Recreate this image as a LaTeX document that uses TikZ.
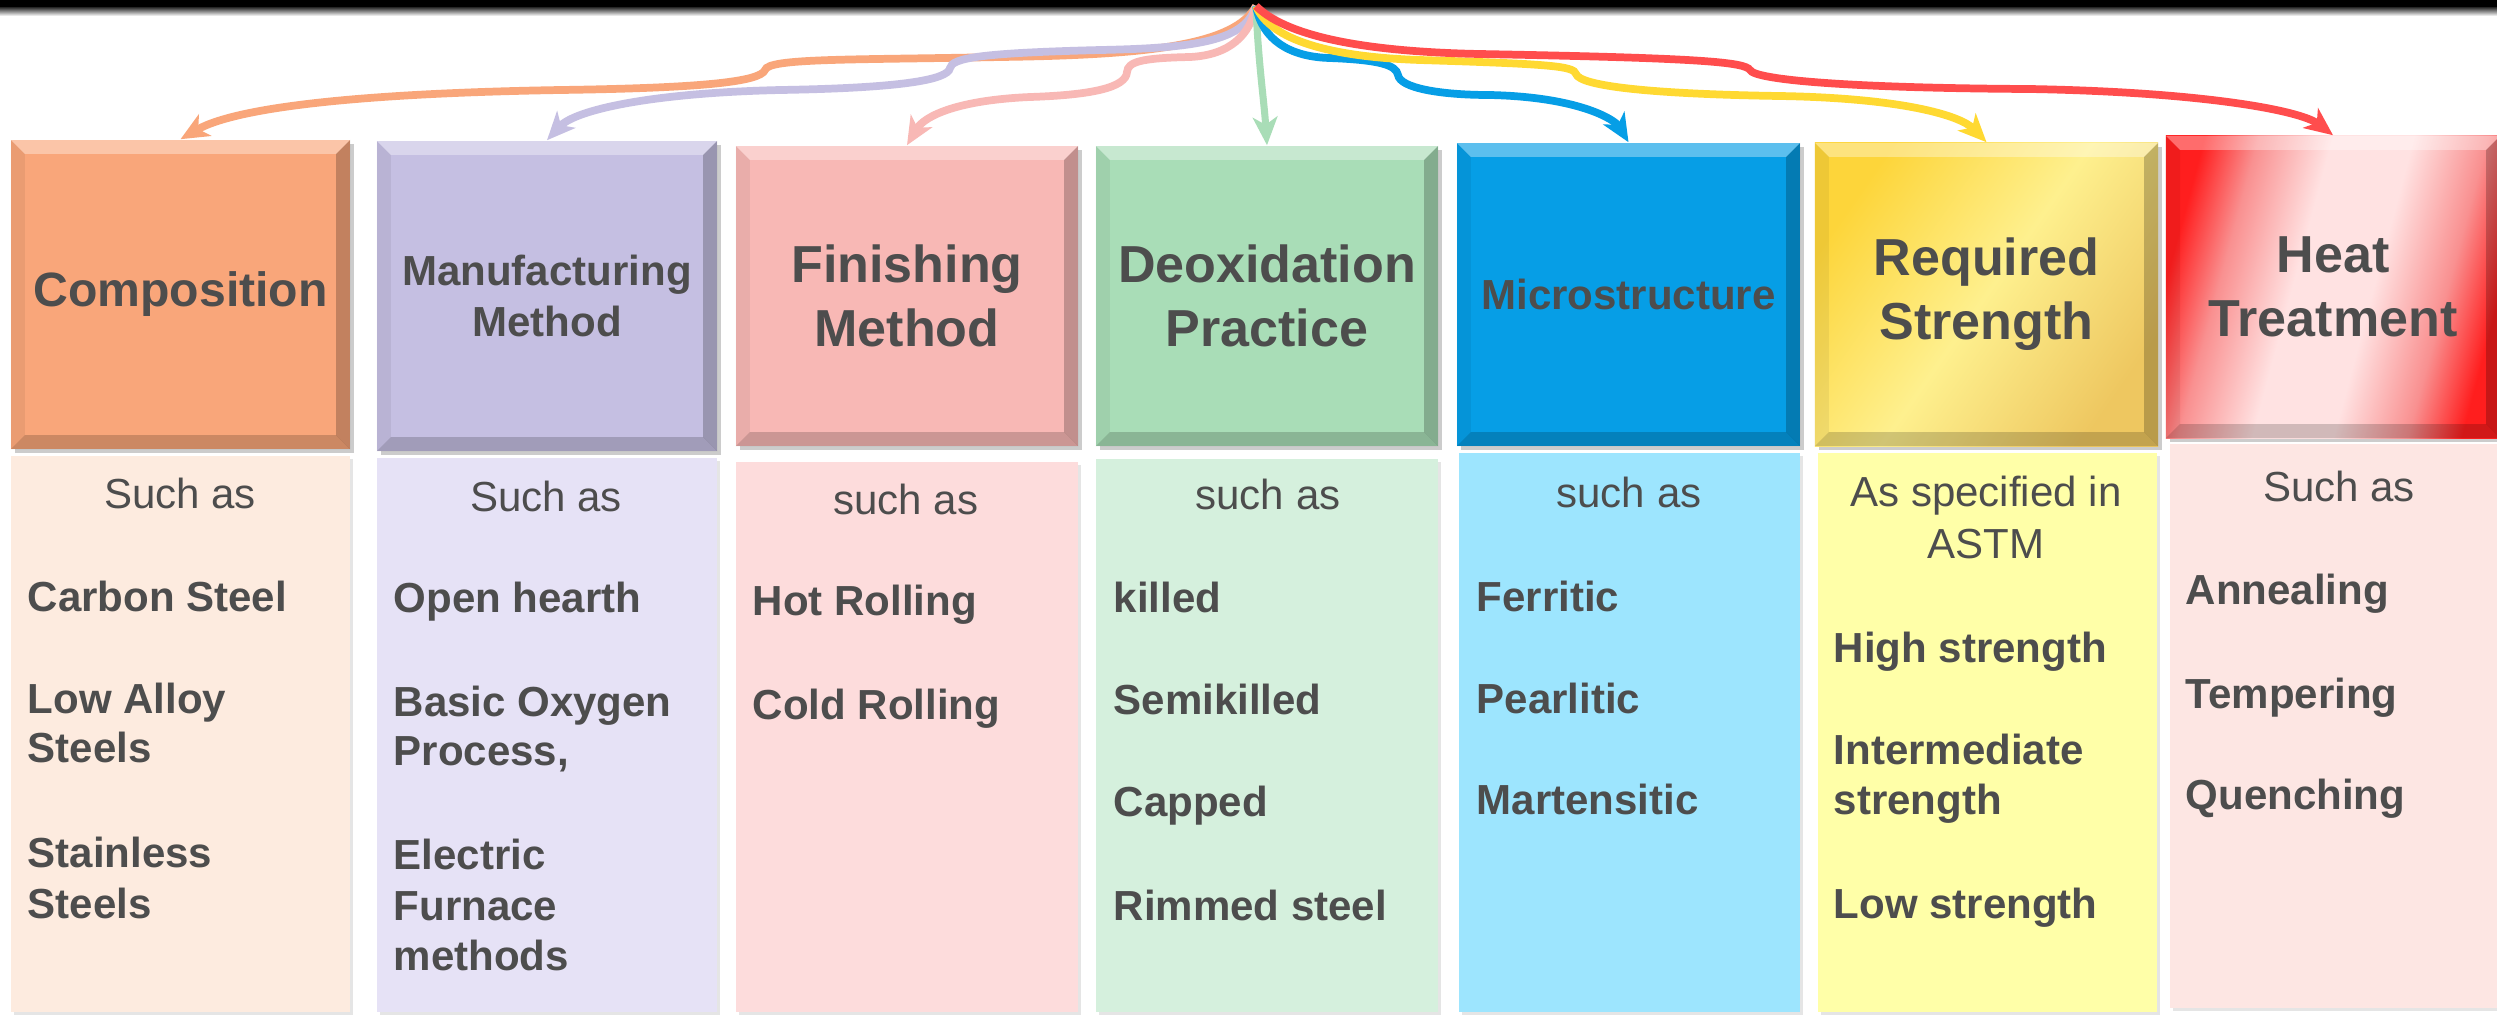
\documentclass[tikz,border=0pt]{standalone}
\usepackage{fontspec}
\setmainfont{Liberation Sans}
\usetikzlibrary{arrows.meta,shadows,calc}

\definecolor{txt}{HTML}{4D4D4D}
\definecolor{cO}{HTML}{F9A67A}\definecolor{cOl}{HTML}{FDEBDF}
\definecolor{cL}{HTML}{C5BFE2}\definecolor{cLl}{HTML}{E6E2F6}
\definecolor{cP}{HTML}{F8B8B5}\definecolor{cPl}{HTML}{FDDCDC}
\definecolor{cG}{HTML}{A9DDB7}\definecolor{cGl}{HTML}{D5F0DD}
\definecolor{cB}{HTML}{069EE6}\definecolor{cBl}{HTML}{9DE5FE}
\definecolor{cYa}{HTML}{FDD53A}\definecolor{cYb}{HTML}{FEF08E}\definecolor{cYc}{HTML}{EEC760}
\definecolor{cYl}{HTML}{FFFFA8}
\definecolor{cRa}{HTML}{FF1E1E}\definecolor{cRp}{HTML}{F99090}\definecolor{cRb}{HTML}{FFE2E2}
\definecolor{cRl}{HTML}{FDE6E3}
\definecolor{aY}{HTML}{FFD932}
\definecolor{aR}{HTML}{FF4D4D}

\pgfdeclarehorizontalshading{heatshade}{100bp}{color(0bp)=(cRa); color(25bp)=(cRa);
  color(33bp)=(cRp); color(44bp)=(cRb); color(56bp)=(cRb); color(67bp)=(cRp);
  color(75bp)=(cRa); color(100bp)=(cRa)}

\begin{document}
\begin{tikzpicture}[x=0.01cm,y=-0.01cm,
  bevel/.style={path picture={
    \coordinate (bNW) at (path picture bounding box.north west);
    \coordinate (bNE) at (path picture bounding box.north east);
    \coordinate (bSW) at (path picture bounding box.south west);
    \coordinate (bSE) at (path picture bounding box.south east);
    \fill[white,opacity=0.35] (bNW) -- (bNE) -- ($(bNE)+(-4pt,-4pt)$) -- ($(bNW)+(4pt,-4pt)$) -- cycle;
    \fill[black,opacity=0.18] (bSW) -- (bSE) -- ($(bSE)+(-4pt,4pt)$) -- ($(bSW)+(4pt,4pt)$) -- cycle;
    \fill[black,opacity=0.06] (bNW) -- ($(bNW)+(4pt,-4pt)$) -- ($(bSW)+(4pt,4pt)$) -- (bSW) -- cycle;
    \fill[black,opacity=0.22] (bNE) -- ($(bNE)+(-4pt,-4pt)$) -- ($(bSE)+(-4pt,4pt)$) -- (bSE) -- cycle;
  }},
  hdr/.style={rectangle, inner sep=0pt, align=center, text=txt, bevel,
    drop shadow={opacity=0.4, shadow xshift=1.2pt, shadow yshift=-1.2pt}},
  lowbox/.style={rectangle, inner sep=0pt,
    drop shadow={opacity=0.2, shadow xshift=0.8pt, shadow yshift=-0.8pt}},
  hbig/.style={font=\bfseries\fontsize{14.8}{18.2}\selectfont},
  hmid/.style={font=\bfseries\fontsize{13.7}{16.5}\selectfont},
  hsml/.style={font=\bfseries\fontsize{11.95}{14.5}\selectfont},
  lt/.style={font=\fontsize{11.95}{14.2}\selectfont, text=txt, inner sep=0pt, anchor=base},
  li/.style={font=\bfseries\fontsize{11.95}{14.2}\selectfont, text=txt, inner sep=0pt, anchor=base west},
  conn/.style={line width=2.2pt, -{Stealth[length=8pt,width=7pt,inset=2.2pt]}}
]
\useasboundingbox (0,0) rectangle (2497,1017);
\fill[white] (0,0) rectangle (2497,1017);

% top bar
\fill[black] (0,0) rectangle (2497,7);
\shade[top color=black!85, bottom color=white] (0,7) rectangle (2497,16);

% lower boxes
\node[lowbox, fill=cOl, minimum width=3.39cm, minimum height=5.56cm] (l1) at (180.5,734) {};
\node[lowbox, fill=cLl, minimum width=3.40cm, minimum height=5.54cm] (l2) at (547,735) {};
\node[lowbox, fill=cPl, minimum width=3.42cm, minimum height=5.50cm] (l3) at (907,737) {};
\node[lowbox, fill=cGl, minimum width=3.42cm, minimum height=5.53cm] (l4) at (1267,735.5) {};
\node[lowbox, fill=cBl, minimum width=3.41cm, minimum height=5.59cm] (l5) at (1629.5,732.5) {};
\node[lowbox, fill=cYl, minimum width=3.39cm, minimum height=5.59cm] (l6) at (1987.5,732.5) {};
\node[lowbox, fill=cRl, minimum width=3.30cm, minimum height=5.64cm] (l7) at (2335,726) {};

% headers
\node[hdr, hmid, fill=cO, minimum width=3.39cm, minimum height=3.09cm] (h1) at (180.5,294.5) {Composition};
\node[hdr, hsml, fill=cL, minimum width=3.40cm, minimum height=3.10cm] (h2) at (547,296) {Manufacturing\\Method};
\node[hdr, hbig, fill=cP, minimum width=3.42cm, minimum height=3.00cm] (h3) at (907,296) {Finishing\\Method};
\node[hdr, hbig, fill=cG, minimum width=3.42cm, minimum height=3.00cm] (h4) at (1267,296) {Deoxidation\\Practice};
\node[hdr, hsml, fill=cB, minimum width=3.43cm, minimum height=3.03cm] (h5) at (1628.5,294.5) {Microstructure};
\node[hdr, hbig, left color=cYa, right color=cYc, middle color=cYb, shading angle=55,
      minimum width=3.43cm, minimum height=3.03cm] (h6) at (1986.5,294.5) {Required\\Strength};
\node[hdr, hbig, shading=heatshade, shading angle=-15,
      minimum width=3.34cm, minimum height=3.02cm] (h7) at (2333,287) {Heat\\Treatment};

% source of connectors
\coordinate (src) at (1256,6);

% connectors
\draw[conn, cO] (src) .. controls (1235,45) and (1150,55) .. (1000,57)
  .. controls (850,60) and (768,58) .. (765,70)
  .. controls (760,82) and (700,88) .. (560,90)
  .. controls (380,93) and (240,105) .. (h1.north);
\draw[conn, cL] (src) .. controls (1245,40) and (1200,48) .. (1100,50)
  .. controls (980,53) and (952,58) .. (950,68)
  .. controls (948,80) and (900,88) .. (780,90)
  .. controls (650,93) and (575,110) .. (h2.north);
\draw[conn, cP] (src) .. controls (1250,35) and (1230,55) .. (1190,57)
  .. controls (1140,58) and (1128,62) .. (1127,72)
  .. controls (1126,88) and (1090,95) .. (1030,97)
  .. controls (960,100) and (925,115) .. (h3.north);
\draw[conn, cG, line width=2pt] (src) .. controls (1258,60) and (1264,100) .. (h4.north);
\draw[conn, cB] (src) .. controls (1262,40) and (1290,57) .. (1330,58)
  .. controls (1380,60) and (1396,65) .. (1398,75)
  .. controls (1400,88) and (1440,95) .. (1490,95)
  .. controls (1580,97) and (1615,120) .. (h5.north);
\draw[conn, aY] (src) .. controls (1270,40) and (1330,57) .. (1420,60)
  .. controls (1550,64) and (1574,66) .. (1576,74)
  .. controls (1580,86) and (1650,94) .. (1780,96)
  .. controls (1900,98) and (1960,115) .. (h6.north);
\draw[conn, aR] (src) .. controls (1290,40) and (1380,52) .. (1480,54)
  .. controls (1700,58) and (1745,62) .. (1750,70)
  .. controls (1755,80) and (1850,88) .. (2030,89)
  .. controls (2200,92) and (2300,110) .. (h7.north);

% lower texts: Composition
\node[lt] (s1) at (180,508) {Such as};
\node[li] (t1a) at (27,611) {Carbon Steel};
\node[li] (t1b) at (27,713) {Low Alloy};
\node[li] (t1c) at (27,762) {Steels};
\node[li] (t1d) at (27,867) {Stainless};
\node[li] (t1e) at (27,918) {Steels};
% Manufacturing
\node[lt] (s2) at (546,511) {Such as};
\node[li] (t2a) at (393,612) {Open hearth};
\node[li] (t2b) at (393,716) {Basic Oxygen};
\node[li] (t2c) at (393,765) {Process,};
\node[li] (t2d) at (393,869) {Electric};
\node[li] (t2e) at (393,920) {Furnace};
\node[li] (t2f) at (393,970) {methods};
% Finishing
\node[lt] (s3) at (906,514) {such as};
\node[li] (t3a) at (752,615) {Hot Rolling};
\node[li] (t3b) at (752,719) {Cold Rolling};
% Deoxidation
\node[lt] (s4) at (1268,509) {such as};
\node[li] (t4a) at (1113,612) {killed};
\node[li] (t4b) at (1113,714) {Semikilled};
\node[li] (t4c) at (1113,816) {Capped};
\node[li] (t4d) at (1113,920) {Rimmed steel};
% Microstructure
\node[lt] (s5) at (1629,507) {such as};
\node[li] (t5a) at (1476,611) {Ferritic};
\node[li] (t5b) at (1476,713) {Pearlitic};
\node[li] (t5c) at (1476,814) {Martensitic};
% Required strength
\node[lt] (s6a) at (1986,506) {As specified in};
\node[lt] (s6b) at (1986,558) {ASTM};
\node[li] (t6a) at (1833,662) {High strength};
\node[li] (t6b) at (1833,764) {Intermediate};
\node[li] (t6c) at (1833,814) {strength};
\node[li] (t6d) at (1833,918) {Low strength};
% Heat treatment
\node[lt] (s7) at (2339,501) {Such as};
\node[li] (t7a) at (2185,604) {Annealing};
\node[li] (t7b) at (2185,708) {Tempering};
\node[li] (t7c) at (2185,809) {Quenching};
\end{tikzpicture}
\end{document}
